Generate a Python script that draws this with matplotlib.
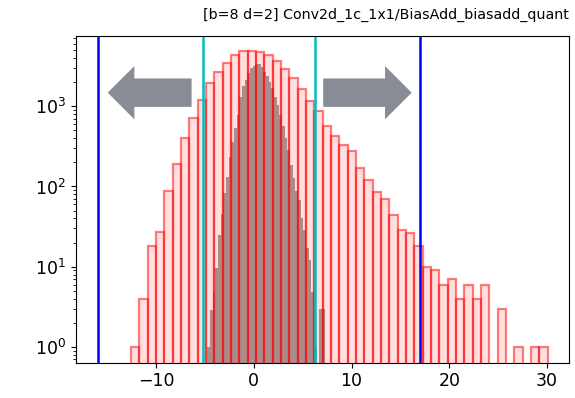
import numpy as np
import matplotlib
matplotlib.use("Agg")
import matplotlib.pyplot as plt
from matplotlib.patches import FancyArrow

title = "[b=8 d=2] Conv2d_1c_1x1/BiasAdd_biasadd_quant"

# float activations histogram (50 bins)
float_lo, float_hi = -12.55, 30.05
float_counts = [1, 4, 18, 27, 88, 188, 401, 703, 1178, 1918,
                2680, 3500, 4400, 4900, 4900, 4800, 4400, 3640, 2900, 2276,
                1650, 1145, 883, 565, 431, 324, 273, 170, 119, 86,
                70, 44, 29, 26, 18, 10, 9, 6, 7, 4,
                6, 4, 6, 0, 3, 0, 1, 0, 1, 1]

# quantized histogram (grey)
quant_lo, quant_hi = -4.75, 7.25
quant_counts = [1, 2.9, 4.8, 9.6, 25, 46, 83, 133, 236, 357,
                534, 781, 1320, 1760, 2130, 2580, 2980, 3210, 3370, 3340,
                3120, 2700, 2410, 2030, 1680, 1320, 1040, 781, 559, 401,
                286, 186, 127, 87, 68, 40, 29, 17, 12, 4.9,
                1, 0, 3, 3]

# clipping ranges
outer_range = [-15.9, 16.95]
inner_range = [-5.2, 6.26]

fig = plt.figure(figsize=(5.75, 3.98), dpi=100)
ax = fig.add_axes([0.132, 0.089, 0.858, 0.821])

q_edges = np.linspace(quant_lo, quant_hi, len(quant_counts) + 1)
q_mid = (q_edges[:-1] + q_edges[1:]) / 2
ax.hist(q_mid, bins=q_edges, weights=quant_counts, histtype='stepfilled',
        color='gray', alpha=0.75, log=True)

f_edges = np.linspace(float_lo, float_hi, len(float_counts) + 1)
f_mid = (f_edges[:-1] + f_edges[1:]) / 2
ax.hist(f_mid, bins=f_edges, weights=float_counts, log=True,
        facecolor=(1, 0, 0, 0.12), edgecolor=(1, 0, 0, 0.5), linewidth=1.6)

for v in outer_range:
    ax.axvline(v, color='b', lw=1.8)
for v in inner_range:
    ax.axvline(v, color='c', lw=1.8)

# arrows (axes fraction)
arrow_kw = dict(width=0.087, head_width=0.163, head_length=0.054,
                length_includes_head=True, color='#888c94', ec='none',
                transform=ax.transAxes)
ax.add_patch(FancyArrow(0.2345, 0.826, -0.170, 0, **arrow_kw))
ax.add_patch(FancyArrow(0.5013, 0.826, 0.1793, 0, **arrow_kw))

ax.set_xlim(-18.18, 32.26)
ax.set_ylim(0.64, 7530)
ax.set_xticks([-10, 0, 10, 20, 30])
ax.tick_params(labelsize=12.5)
ax.set_title(title, loc='right', fontsize=10.3, pad=12)

fig.savefig("out.png", dpi=100)
